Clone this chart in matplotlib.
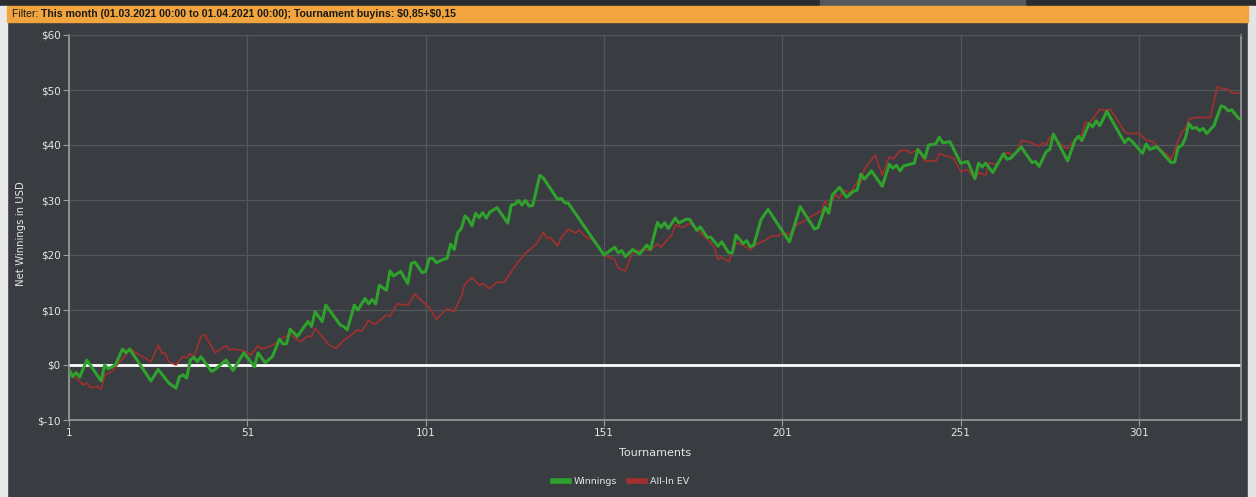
import matplotlib
matplotlib.use("Agg")
import matplotlib.pyplot as plt
from matplotlib.patches import Rectangle
from matplotlib.lines import Line2D
from matplotlib.ticker import FuncFormatter

# ---- data (tournament number, net winnings in USD) ----
win_t = [1, 2, 3, 4, 6, 10, 11, 12, 14, 16, 17, 18, 24, 26, 29, 31, 32, 33, 34, 35, 36, 37, 38,
         41, 42, 45, 47, 50, 53, 54, 56, 58, 60, 61, 62, 63, 65, 68, 69, 70, 72, 73, 77, 78, 79,
         81, 82, 84, 85, 86, 87, 88, 90, 91, 92, 94, 96, 97, 98, 100, 101, 102, 103, 104, 106,
         107, 108, 109, 110, 111, 112, 113, 114, 115, 116, 117, 118, 119, 121, 124, 125, 126,
         127, 128, 129, 130, 131, 133, 134, 138, 139, 140, 141, 151, 154, 155, 156, 157, 159,
         161, 163, 164, 166, 167, 168, 169, 171, 172, 174, 175, 177, 178, 180, 181, 183, 184,
         186, 187, 188, 190, 191, 192, 193, 195, 197, 203, 206, 210, 211, 213, 214, 215, 217,
         219, 221, 222, 223, 224, 226, 229, 231, 232, 233, 234, 235, 238, 239, 241, 242, 244,
         245, 246, 248, 251, 253, 255, 256, 257, 258, 260, 263, 264, 265, 268, 271, 272, 273,
         275, 276, 277, 281, 283, 284, 285, 287, 288, 289, 290, 292, 297, 298, 299, 302, 303,
         304, 306, 310, 311, 312, 313, 314, 315, 316, 317, 318, 319, 320, 322, 324, 325, 326,
         327, 328, 329]
win_v = [-0.9, -2.1, -1.4, -2.2, 0.9, -2.9, 0.0, -0.7, 0.0, 2.9, 2.2, 2.9, -2.9, -0.8, -3.3,
         -4.2, -2.1, -1.8, -2.4, 0.9, 1.4, 0.6, 1.5, -1.2, -0.8, 0.9, -1.0, 2.2, -0.3, 2.2, 0.4,
         1.5, 4.7, 3.8, 3.9, 6.5, 5.2, 7.9, 7.0, 9.7, 7.9, 10.9, 7.3, 7.0, 6.4, 10.9, 10.0, 12.1,
         11.1, 11.9, 11.1, 14.5, 13.6, 17.1, 16.2, 17.0, 14.8, 18.5, 18.7, 16.8, 17.0, 19.4, 19.4,
         18.6, 19.2, 19.4, 22.0, 21.0, 24.1, 24.8, 27.1, 26.5, 25.3, 27.6, 26.8, 27.7, 26.7, 27.8,
         28.6, 25.8, 29.1, 29.2, 29.9, 29.1, 29.9, 28.9, 29.0, 34.5, 34.0, 30.1, 30.3, 29.5, 29.4,
         20.0, 21.4, 20.4, 20.8, 19.7, 21.0, 20.2, 21.8, 21.0, 25.9, 25.0, 25.9, 24.8, 26.7, 25.8,
         26.5, 26.5, 24.5, 25.1, 23.2, 23.2, 21.6, 22.4, 20.4, 20.4, 23.6, 22.1, 22.6, 21.5, 21.8,
         26.4, 28.3, 22.4, 28.8, 24.7, 25.0, 28.7, 27.6, 30.9, 32.3, 30.5, 31.6, 31.8, 34.7, 33.8,
         35.3, 32.5, 36.5, 35.8, 36.3, 35.3, 36.2, 36.7, 39.2, 37.6, 40.0, 40.2, 41.4, 40.4, 40.6,
         36.7, 37.0, 33.9, 36.7, 36.0, 36.7, 35.0, 38.4, 37.4, 37.6, 39.6, 36.8, 37.0, 36.1, 38.8,
         39.2, 42.0, 37.1, 40.8, 41.6, 40.8, 43.9, 43.3, 44.4, 43.5, 46.1, 40.4, 41.2, 40.7, 38.5,
         40.2, 39.2, 39.7, 36.8, 36.9, 39.6, 39.9, 41.2, 43.9, 43.0, 43.2, 42.6, 43.0, 42.1, 43.5,
         47.1, 46.9, 46.2, 46.4, 45.6, 44.8]

ev_t = [1, 3, 5, 6, 7, 9, 10, 11, 13, 15, 17, 18, 20, 24, 26, 27, 28, 29, 31, 33, 34, 35, 36,
        38, 39, 42, 45, 46, 47, 50, 52, 54, 55, 57, 58, 60, 61, 63, 66, 68, 69, 70, 74, 76, 78,
        79, 82, 83, 85, 86, 87, 90, 91, 93, 96, 98, 100, 102, 104, 107, 109, 111, 112, 114, 116,
        117, 119, 121, 123, 125, 127, 129, 132, 134, 135, 136, 138, 139, 141, 143, 144, 146,
        148, 151, 154, 155, 157, 159, 161, 162, 164, 166, 167, 169, 170, 171, 173, 175, 176,
        178, 181, 182, 183, 184, 186, 188, 190, 192, 194, 196, 198, 200, 201, 203, 205, 207,
        209, 212, 213, 214, 216, 217, 218, 220, 222, 223, 224, 227, 229, 231, 232, 234, 236,
        237, 239, 241, 243, 244, 245, 247, 249, 251, 253, 255, 256, 258, 259, 261, 263, 264,
        266, 267, 268, 270, 273, 274, 275, 276, 278, 280, 281, 283, 285, 286, 287, 290, 291,
        293, 297, 298, 301, 303, 305, 306, 307, 309, 310, 313, 314, 315, 317, 319, 321, 322,
        323, 324, 326, 327, 329]
ev_v = [-0.7, -2.4, -3.6, -3.3, -4.1, -3.9, -4.4, -1.8, -1.2, 0.4, 1.9, 3.0, 2.1, 0.6, 3.6,
        2.2, 2.1, 0.6, 0.0, 1.6, 1.3, 2.1, 1.4, 5.2, 5.5, 2.2, 3.5, 2.7, 2.9, 2.6, 1.8, 3.5, 2.9,
        3.3, 3.6, 4.4, 5.0, 5.5, 4.2, 5.3, 5.1, 6.7, 3.6, 3.0, 4.5, 4.9, 6.4, 6.1, 8.1, 7.6, 7.5,
        9.1, 8.9, 11.1, 10.9, 12.9, 11.6, 10.5, 8.3, 10.3, 9.7, 12.5, 14.7, 15.9, 14.5, 14.8,
        13.9, 15.1, 15.0, 17.0, 18.8, 20.3, 22.0, 24.1, 23.0, 23.2, 21.6, 23.2, 24.7, 24.0, 24.5,
        23.2, 22.7, 20.0, 19.2, 17.6, 17.1, 20.6, 20.8, 21.0, 20.9, 22.0, 21.4, 23.0, 23.6, 25.5,
        25.0, 25.8, 25.2, 24.1, 22.2, 21.2, 19.2, 19.6, 18.8, 22.2, 21.8, 20.9, 22.1, 22.6, 23.5,
        23.5, 24.1, 23.7, 25.5, 26.1, 27.0, 28.0, 29.9, 29.0, 30.9, 30.3, 31.8, 31.3, 33.3, 33.1,
        35.6, 38.2, 34.5, 37.9, 37.4, 39.0, 39.0, 38.5, 39.2, 37.0, 37.2, 37.0, 38.4, 38.0, 37.6,
        35.2, 35.5, 33.8, 35.0, 34.5, 36.8, 36.4, 38.2, 38.6, 38.2, 39.2, 40.8, 40.6, 39.8, 40.4,
        40.0, 41.5, 40.9, 39.6, 39.4, 40.9, 41.8, 44.2, 43.9, 46.5, 46.3, 46.5, 42.4, 42.1, 42.1,
        40.9, 40.6, 39.7, 39.2, 38.2, 37.4, 42.4, 42.9, 44.7, 45.0, 45.0, 45.0, 47.9, 50.6, 50.3,
        50.1, 49.5, 49.4]

x_ticks = [1, 51, 101, 151, 201, 251, 301]
y_ticks = [-10, 0, 10, 20, 30, 40, 50, 60]
series_names = ["Winnings", "All-In EV"]
filter_label = "Filter: "
filter_text = "This month (01.03.2021 00:00 to 01.04.2021 00:00); Tournament buyins: $0,85+$0,15"

# ---- style ----
BG = "#393c40"
GRID = "#53575c"
AXIS = "#9a9c9e"
TXT = "#e6e6e6"
GREEN = "#2fa12d"
RED = "#a3302f"

W, H = 1256, 497
fig = plt.figure(figsize=(W / 100, H / 100), dpi=100, facecolor=BG)
plt.rcParams['font.family'] = ['DejaVu Sans']

def fx(px):
    return px / W

def fy(py):
    return 1 - py / H

# frame decorations
fig.add_artist(Rectangle((0, fy(6)), 1, 6 / H, transform=fig.transFigure, color="#2a2c2f", zorder=1))
fig.add_artist(Rectangle((fx(820), fy(6)), 205 / W, 6 / H, transform=fig.transFigure, color="#55585c", zorder=2))
fig.add_artist(Rectangle((fx(0), 0), 7 / W, fy(6), transform=fig.transFigure, color="#e9e9e9", zorder=1))
fig.add_artist(Rectangle((fx(1248), 0), 8 / W, fy(6), transform=fig.transFigure, color="#e4e4e4", zorder=1))
fig.add_artist(Rectangle((fx(7), fy(22)), 1241 / W, 16 / H, transform=fig.transFigure, color="#f2a53e", zorder=2))
FF = ['Liberation Sans', 'DejaVu Sans']
t1 = fig.text(fx(12), fy(14), filter_label, fontsize=7.6, color="#1a1a1a", va="center", ha="left",
              zorder=3, parse_math=False, family=FF)
fig.canvas.draw()
bb = t1.get_window_extent()
fig.text(bb.x1 / W, fy(14), filter_text, fontsize=7.6, color="#1a1a1a", va="center", ha="left",
         fontweight="bold", zorder=3, parse_math=False, family=FF)

ax = fig.add_axes([fx(69), fy(420), (1241 - 69) / W, (420 - 35) / H])
ax.set_facecolor(BG)
ax.plot(ev_t, ev_v, color=RED, lw=1.2, zorder=3)
ax.plot(win_t, win_v, color=GREEN, lw=2.2, zorder=4)
ax.axhline(0, color="white", lw=2.0, zorder=2)

ax.set_xlim(1, 329.6)
ax.set_ylim(-10, 60)
ax.set_xticks(x_ticks)
ax.set_yticks(y_ticks)
ax.yaxis.set_major_formatter(FuncFormatter(lambda v, p: f"${int(v)}"))
ax.grid(True, color=GRID, lw=0.9, zorder=0)
for s in ["left", "bottom", "right"]:
    ax.spines[s].set_color(AXIS)
    ax.spines[s].set_linewidth(1.2)
ax.spines["top"].set_color(GRID)
ax.tick_params(colors=AXIS, labelcolor=TXT, labelsize=7.5, length=4, width=0.8, pad=2)

ax.set_xlabel("Tournaments", color=TXT, fontsize=8, labelpad=7)
fig.text(fx(21), fy(234), "Net Winnings in USD", rotation=90, color=TXT, fontsize=7.3,
         ha="center", va="center")

handles = [Line2D([0], [0], color=GREEN, lw=4), Line2D([0], [0], color=RED, lw=4)]
fig.legend(handles, series_names, loc="center", bbox_to_anchor=(fx(621), fy(482)), ncol=2,
           frameon=False, fontsize=6.8, labelcolor=TXT, handlelength=1.7, handletextpad=0.5,
           columnspacing=1.3)

fig.savefig("out.png", dpi=100, facecolor=BG)
